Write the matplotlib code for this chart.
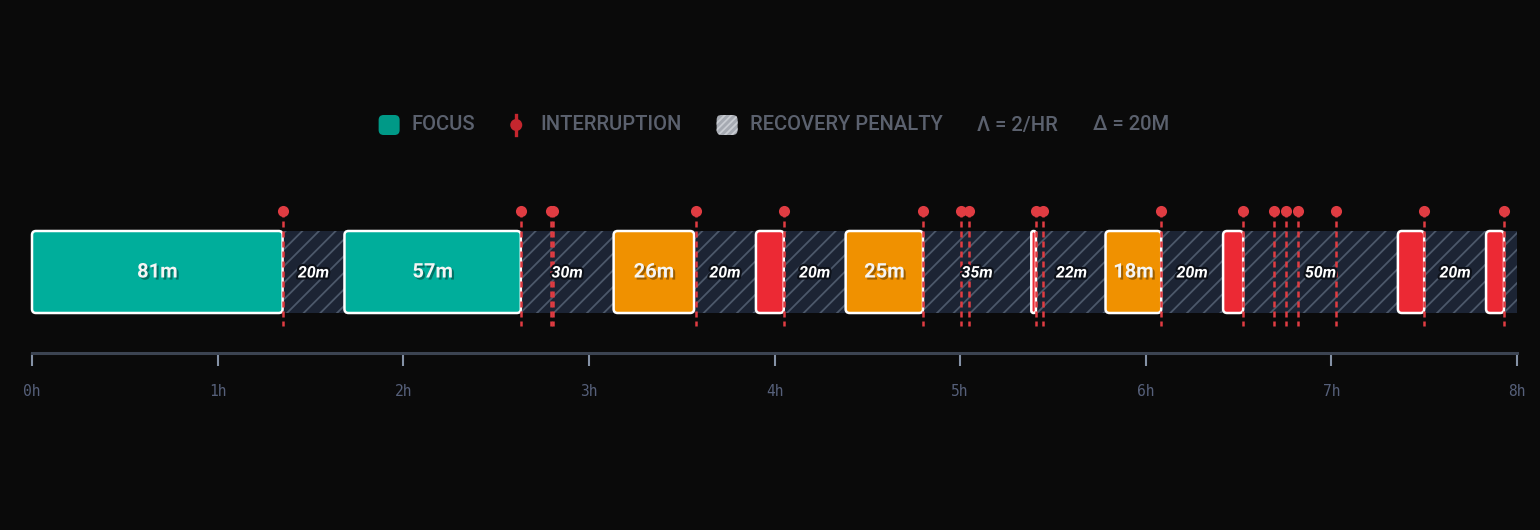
import numpy as np
import matplotlib.pyplot as plt
import matplotlib.patheffects as pe
from matplotlib.patches import FancyBboxPatch, Rectangle, Circle

# focus blocks, minutes from start of day
focus_start = [0, 101, 188, 234, 263, 323, 347, 385, 441.5, 470]
focus_len = [81, 57, 26, 9, 25, 1.5, 18, 6.5, 8.5, 5.8]

# recovery penalty blocks
recov_start = [81, 158, 214, 243, 288, 325, 365, 391.5, 450, 475.8]
recov_len = [20, 30, 20, 20, 35, 22, 20, 50, 20, 4.2]

# interruption times (minutes)
interrupts = [81, 158, 167.7, 168.4, 214.6, 243, 288, 300.3, 302.8, 324.5,
              326.7, 365, 391.4, 401.4, 405.3, 409.2, 421.5, 450, 475.8]

hours = [0, 1, 2, 3, 4, 5, 6, 7, 8]

legend_labels = ["FOCUS", "INTERRUPTION", "RECOVERY PENALTY", "Λ = 2/HR", "Δ = 20M"]

BG = "#0a0a0a"
TEAL = "#00ae9b"
ORANGE = "#f09100"
RED = "#ec2934"
MARK = "#e03c42"
RECOV = "#1c2434"
HATCH = "#4c586a"
TXT = "#5b616e"

plt.rcParams["hatch.linewidth"] = 1.3
plt.rcParams["font.family"] = ["Roboto", "DejaVu Sans"]

W, H = 1540, 530
fig = plt.figure(figsize=(W / 100, H / 100), dpi=100, facecolor=BG)

# pixel layout of the time axis
x0, x1 = 32, 1517
ppm = (x1 - x0) / 480.0
ax_bottom = 353

ax = fig.add_axes([0, (H - ax_bottom) / H, 1, ax_bottom / H])
ax.set_facecolor("none")
ax.set_xlim(-x0 / ppm, (W - x0) / ppm)
ax.set_ylim(ax_bottom, 0)

bar_top, bar_h = 231, 82
bar_mid = bar_top + bar_h / 2

# recovery blocks
for s, l in zip(recov_start, recov_len):
    ax.add_patch(Rectangle((s, bar_top), l, bar_h, facecolor=RECOV,
                           edgecolor=HATCH, hatch="//", linewidth=0, zorder=1))
    if l >= 10:
        ax.text(s + l / 2, bar_mid + 1, f"{l:.0f}m", ha="center", va="center",
                fontsize=11.5, fontweight="bold", fontstyle="italic", color="white",
                zorder=5,
                path_effects=[pe.Stroke(linewidth=3, foreground="#0d1119"), pe.Normal()])

# focus blocks
for s, l in zip(focus_start, focus_len):
    if l >= 45:
        c = TEAL
    elif l >= 15:
        c = ORANGE
    else:
        c = RED
    r = min(4 / ppm, l / 2)
    ax.add_patch(FancyBboxPatch((s, bar_top), l, bar_h,
                                boxstyle=f"round,pad=0,rounding_size={r}",
                                mutation_aspect=ppm, facecolor=c, edgecolor="white",
                                linewidth=1.8, zorder=2))
    if l >= 15:
        ax.text(s + l / 2, bar_mid, f"{l:.0f}m", ha="center", va="center",
                fontsize=14.5, fontweight="bold", color="#f4f4f4", zorder=5,
                path_effects=[pe.withSimplePatchShadow(offset=(1.5, -1.5),
                                                       shadow_rgbFace="black", alpha=0.35)])

# interruptions
ax.vlines(interrupts, 211, 326, colors=MARK, linewidth=1.8,
          linestyles=(0, (2.4, 1.6)), zorder=4)
ax.plot(interrupts, [211] * len(interrupts), "o", color=MARK, markersize=8,
        markeredgewidth=0, zorder=4)

# time axis
for side in ["top", "left", "right"]:
    ax.spines[side].set_visible(False)
ax.spines["bottom"].set_color("#3c4452")
ax.spines["bottom"].set_linewidth(2.2)
ax.spines["bottom"].set_bounds(0, 480)
ax.set_yticks([])
ax.set_xticks([h * 60 for h in hours])
ax.set_xticklabels([f"{h}h" for h in hours], fontfamily="DejaVu Sans Mono",
                   fontsize=10.5, color="#56607a")
ax.tick_params(axis="x", direction="out", length=9.5, width=1.5, color="#8592a6", pad=13)

# legend, drawn on a pixel overlay
lax = fig.add_axes([0, 0, 1, 1])
lax.set_xlim(0, W)
lax.set_ylim(H, 0)
lax.axis("off")
lax.set_zorder(-1)

ly = 125
renderer = fig.canvas.get_renderer()
texts = []
for lab in legend_labels:
    t = lax.text(0, ly, lab, ha="left", va="center", fontsize=14.5,
                 fontweight="medium", color=TXT)
    texts.append(t)
widths = [t.get_window_extent(renderer).width for t in texts]

icon_w = [21, 12, 21, 0, 0]
icon_gap = [12, 18, 12, 0, 0]
item_gap = 35
total = sum(icon_w) + sum(icon_gap) + sum(widths) + item_gap * (len(widths) - 1)
x = (W - total) / 2 + 4

for i, (t, w) in enumerate(zip(texts, widths)):
    if i == 0:
        lax.add_patch(FancyBboxPatch((x, ly - 10), 21, 20,
                                     boxstyle="round,pad=0,rounding_size=5",
                                     facecolor="#009987", edgecolor="none"))
    elif i == 1:
        lax.plot([x + 6, x + 6], [ly - 10, ly + 10], color="#c4262e", linewidth=2.4)
        lax.add_patch(Circle((x + 6, ly), 6, facecolor="#c4262e", edgecolor="none"))
    elif i == 2:
        lax.add_patch(FancyBboxPatch((x, ly - 10), 21, 20,
                                     boxstyle="round,pad=0,rounding_size=5",
                                     facecolor="#a6aab2", edgecolor="#c9ccd2",
                                     hatch="/////", linewidth=0))
    x += icon_w[i] + icon_gap[i]
    t.set_x(x)
    x += w + item_gap

fig.savefig("out.png", dpi=100, facecolor=BG)
